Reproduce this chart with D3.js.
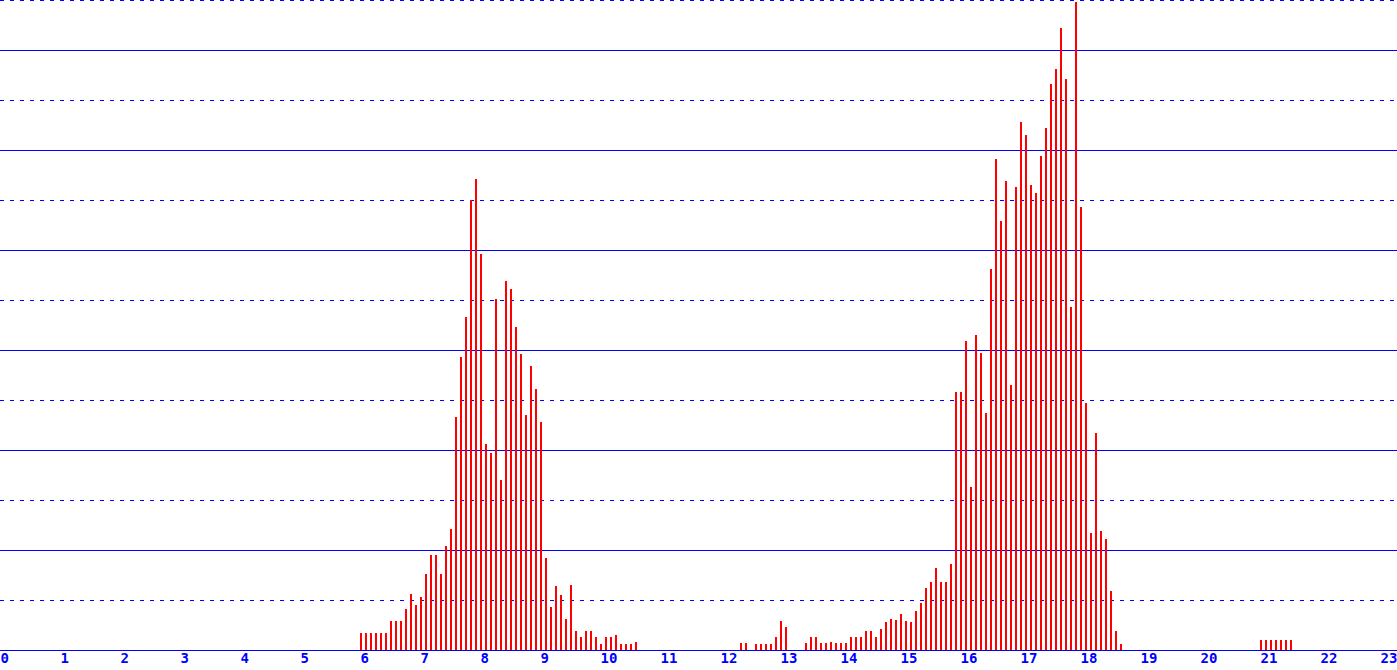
<!DOCTYPE html>
<html>
<head>
<meta charset="utf-8">
<script src="https://cdn.jsdelivr.net/npm/d3@7"></script>
<style>
  body { margin: 0; background: #fff; overflow: hidden; }
  .tick text { font-family: "DejaVu Sans Mono", monospace; font-weight: bold; font-size: 14px; fill: #0000ff; }
</style>
</head>
<body>
<div id="chart"></div>
<script>
  // shared config
  var width  = 1397,
      height = 670,
      base   = 650,
      binMin = 5;

  // hour tick labels
  var hours = d3.range(0, 24);

  // grid levels (value units)
  var gridLevels = d3.range(0, 70, 5);

  // 5-minute bins, each run starts at its clock time
  var morningStart = "06:00";
  var morningValues = [
    1.7, 1.7, 1.7, 1.7, 1.7, 1.7, 2.9, 2.9, 2.9, 4.1, 5.6, 4.5,
    5.3, 7.6, 9.5, 9.5, 7.6, 10.4, 12.1, 23.3, 29.3, 33.3, 45.0, 47.1,
    39.6, 20.6, 19.7, 35.1, 17.0, 36.9, 36.1, 32.3, 29.6, 23.5, 28.4, 26.1,
    22.8, 9.2, 4.3, 6.4, 5.5, 3.1, 6.5, 1.9, 1.3, 1.9, 1.9, 1.3,
    0.6, 1.3, 1.3, 1.5, 0.6, 0.6, 0.6, 0.8
  ];

  var afternoonStart = "12:20";
  var afternoonValues = [
    0.7, 0.7, 0, 0.6, 0.6, 0.6, 0.6, 1.3, 2.9, 2.3, 0, 0,
    0, 0.7, 1.3, 1.3, 0.7, 0.7, 0.8, 0.7, 0.7, 0.7, 1.3, 1.3,
    1.3, 1.9, 1.9, 1.3, 2.1, 2.8, 3.1, 3.0, 3.6, 2.9, 2.8, 3.9,
    4.7, 6.2, 6.8, 8.2, 6.8, 6.8, 8.6, 25.8, 25.8, 30.9, 16.3, 31.5,
    29.7, 23.7, 38.1, 49.1, 42.9, 46.9, 26.5, 46.3, 52.8, 51.5, 46.5, 45.7,
    49.4, 52.2, 56.6, 58.1, 62.2, 57.1, 34.3, 64.8, 44.3, 24.7, 11.7, 21.7,
    11.9, 11.1, 5.9, 1.9, 0.6
  ];

  var eveningStart = "21:00";
  var eveningValues = [1.0, 1.0, 1.0, 1.0, 1.0, 1.0, 1.0];

  // helper: "hh:mm" -> minutes of the day
  function minutes(s){
    var p = s.split(':');
    return (+p[0])*60 + (+p[1]);
  }

  function bins(start, values){
    var m0 = minutes(start);
    return values.map(function(v, i){ return {t: m0 + i*binMin, v: v} });
  }

  var data = []
    .concat(bins(morningStart, morningValues))
    .concat(bins(afternoonStart, afternoonValues))
    .concat(bins(eveningStart, eveningValues))
    .filter(function(d){ return d.v > 0 });

  var x = d3.scaleLinear().domain([0, 1440]).range([0, 1440]);
  var y = d3.scaleLinear().domain([0, 65]).range([base, 0]);

  var svg = d3.select('#chart').append('svg')
    .attr('width', width)
    .attr('height', height);

  // grid lines: solid every 10, dotted in between
  svg.append('g').selectAll('line')
    .data(gridLevels)
    .enter().append('line')
    .attr('x1', 0)
    .attr('x2', width)
    .attr('y1', function(d){ return Math.round(y(d)) + 0.5 })
    .attr('y2', function(d){ return Math.round(y(d)) + 0.5 })
    .attr('stroke', '#0000ff')
    .attr('stroke-width', 1)
    .attr('shape-rendering', 'crispEdges')
    .attr('stroke-dasharray', function(d){ return d % 10 === 0 ? null : '4,6' });

  // bars
  svg.append('g').selectAll('rect')
    .data(data)
    .enter().append('rect')
    .attr('x', function(d){ return x(d.t) })
    .attr('y', function(d){ return Math.round(y(d.v)) })
    .attr('width', 2)
    .attr('height', function(d){ return base - Math.round(y(d.v)) })
    .attr('fill', '#ff0000')
    .attr('shape-rendering', 'crispEdges');

  // hour labels
  var axis = d3.axisBottom(x)
    .tickValues(hours.map(function(h){ return h*60 }))
    .tickFormat(function(d){ return d/60 })
    .tickSize(0)
    .tickPadding(3);

  var gx = svg.append('g')
    .attr('transform', 'translate(0,' + base + ')')
    .call(axis);

  gx.select('.domain').remove();
  gx.selectAll('.tick text')
    .attr('text-anchor', 'start')
    .attr('font-family', null)
    .attr('font-size', null);
</script>
</body>
</html>
